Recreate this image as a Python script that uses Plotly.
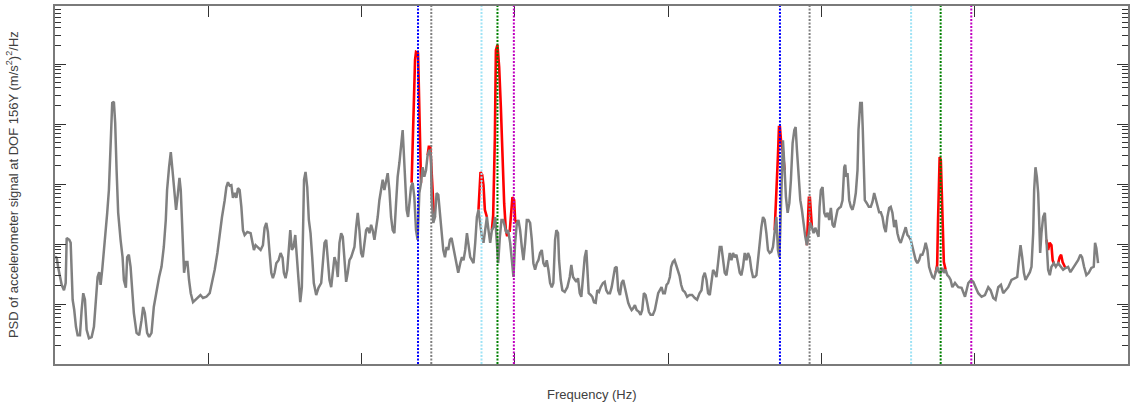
import plotly.graph_objects as go

# ---- measured PSD (gray) : frequency in Hz, PSD in dB re 1 (m/s^2)^2/Hz ----
freq_hz = [0.0, 0.55, 1.07, 1.63, 2.18, 2.93, 3.48, 3.81, 4.66, 5.11, 5.44, 5.76, 6.28, 6.84, 7.39, 8.14,
           8.69, 9.21, 9.77, 10.32, 11.07, 11.95, 12.70, 13.35, 13.90, 14.42, 14.88, 15.40, 15.95, 16.51,
           17.03, 17.58, 18.13, 18.66, 19.21, 19.63, 20.09, 20.61, 21.39, 22.04, 22.47, 23.12, 23.54, 24.09,
           24.65, 25.17, 25.72, 26.60, 27.45, 28.23, 28.75, 29.30, 30.05, 30.70, 31.48, 32.23, 33.11, 33.96,
           34.74, 35.49, 36.14, 36.56, 37.21, 37.77, 38.32, 38.74, 39.49, 40.05, 40.60, 41.02, 41.35, 41.77,
           42.10, 42.65, 43.20, 43.72, 44.28, 45.03, 45.81, 46.66, 47.44, 48.28, 49.39, 50.46, 51.21, 52.09,
           52.97, 53.72, 54.47, 55.35, 55.90, 56.42, 56.98, 57.53, 58.05, 58.60, 59.16, 59.68, 60.23, 60.79,
           61.31, 61.86, 62.74, 63.81, 64.37, 64.89, 65.44, 66.19, 67.07, 67.82, 68.37, 68.93, 69.45, 70.00,
           70.55, 71.07, 71.63, 72.18, 72.93, 73.58, 74.23, 74.66, 75.21, 75.76, 76.19, 76.74, 77.26, 77.81,
           78.37, 78.89, 79.44, 80.00, 80.52, 80.91, 81.23, 81.72, 82.27, 82.80, 83.35, 83.90, 84.42, 85.20,
           85.95, 86.83, 87.36, 87.91, 88.46, 88.98, 89.53, 90.09, 90.61, 91.16, 91.72, 92.24, 92.79, 93.34,
           93.87, 94.42, 94.97, 95.49, 96.05, 96.60, 97.12, 97.67, 98.23, 98.75, 99.30, 99.85, 100.38, 100.93,
           101.48, 102.01, 102.56, 103.11, 103.63, 104.19, 104.74, 105.26, 105.81, 106.37, 106.89, 107.44,
           107.99, 108.52, 109.07, 109.62, 110.15, 110.70, 111.25, 111.77, 112.33, 112.88, 113.40, 113.73,
           114.28, 114.70, 115.16, 115.58, 116.13, 116.66, 117.21, 117.76, 118.28, 118.84, 119.39, 119.91,
           120.46, 121.02, 121.54, 122.09, 122.64, 122.84, 123.39, 123.95, 124.47, 125.02, 125.58, 126.10,
           126.65, 127.20, 127.73, 128.28, 128.83, 129.35, 129.91, 130.46, 130.98, 131.53, 132.19, 132.74,
           133.26, 133.81, 134.37, 134.89, 135.44, 135.99, 136.52, 137.07, 137.62, 138.14, 138.70, 139.25,
           139.77, 140.32, 140.88, 141.40, 141.95, 142.51, 143.03, 143.58, 144.13, 144.56, 145.11, 145.63,
           146.19, 146.74, 147.26, 147.81, 148.47, 149.02, 149.54, 150.09, 150.65, 151.17, 151.72, 152.27,
           152.80, 153.35, 153.90, 154.42, 154.98, 155.53, 156.05, 156.60, 157.16, 157.68, 158.23, 158.78,
           159.31, 159.86, 160.41, 160.94, 161.49, 162.04, 162.56, 163.12, 163.54, 164.09, 164.42, 164.97,
           165.49, 166.27, 167.12, 167.90, 168.42, 168.98, 169.53, 170.05, 170.60, 171.16, 171.68, 172.23,
           172.79, 173.31, 173.63, 174.09, 174.74, 175.26, 175.81, 176.37, 176.89, 177.44, 177.99, 178.74,
           179.30, 179.82, 180.37, 181.02, 181.58, 182.10, 182.65, 183.20, 183.72, 184.28, 184.83, 185.35,
           185.91, 186.46, 186.98, 187.53, 188.09, 188.61, 189.16, 189.71, 190.46, 191.02, 191.54, 192.09,
           192.65, 193.17, 193.72, 194.27, 195.02, 195.67, 196.23, 196.75, 197.30, 197.85, 198.38, 198.93,
           199.48, 200.00, 200.56, 200.98, 201.53, 202.09, 202.61, 203.16, 203.72, 204.24, 204.79, 205.44,
           206.19, 206.97, 207.82, 208.70, 209.45, 210.23, 210.88, 211.40, 211.95, 212.51, 213.03, 213.58,
           214.13, 214.66, 215.21, 215.76, 216.28, 216.84, 217.39, 217.91, 218.46, 219.02, 219.54, 220.09,
           220.65, 221.17, 221.72, 222.27, 222.80, 223.35, 223.90, 224.42, 224.98, 225.53, 226.05, 226.60,
           227.16, 227.68, 228.23, 228.79, 229.31, 229.86, 230.41, 230.94, 231.49, 232.04, 232.57, 233.12,
           233.67, 234.19, 234.75, 235.30, 235.82, 236.28, 236.60, 237.12, 237.45, 238.00, 238.42, 238.98,
           239.53, 240.05, 240.60, 241.16, 241.58, 242.01, 242.56, 243.11, 243.63, 244.19, 244.74, 245.26,
           245.81, 246.37, 246.89, 247.44, 247.99, 248.52, 249.07, 249.39, 249.82, 250.37, 250.92, 251.45,
           252.00, 252.55, 253.08, 253.63, 254.18, 254.70, 255.26, 255.81, 256.33, 256.88, 257.44, 257.76,
           258.09, 258.51, 259.06, 259.59, 260.14, 260.69, 261.21, 261.77, 262.09, 262.65, 263.17, 263.49,
           263.82, 264.15, 264.80, 265.45, 266.10, 266.65, 267.21, 267.73, 268.28, 268.83, 269.36, 269.91,
           270.46, 270.98, 271.53, 272.09, 272.61, 273.16, 273.72, 274.24, 274.79, 275.34, 275.86, 276.42,
           276.97, 277.49, 278.05, 278.60, 279.12, 279.67, 280.23, 280.75, 281.30, 281.85, 282.37, 282.93,
           283.48, 284.00, 284.56, 285.11, 285.63, 286.19, 286.74, 287.26, 287.81, 288.37, 288.89, 289.44,
           289.99, 290.52, 291.07, 291.62, 292.15, 292.70, 293.57, 294.65, 295.72, 296.83, 297.91, 298.79,
           299.53, 300.29, 301.16, 302.24, 303.34, 304.42, 305.17, 306.05, 306.79, 307.67, 308.55, 309.30,
           310.05, 310.93, 312.00, 313.11, 313.86, 314.41, 314.94, 315.49, 316.04, 316.56, 317.21, 317.99,
           318.52, 319.07, 319.39, 319.82, 320.27, 320.70, 321.02, 321.35, 321.77, 322.32, 322.88, 323.40,
           323.95, 324.50, 325.03, 325.81, 326.46, 327.21, 327.96, 328.84, 329.59, 330.46, 331.22, 332.09,
           332.84, 333.72, 334.47, 335.02, 335.67, 336.42, 337.20, 338.05, 338.83, 339.26, 339.68, 340.01,
           340.23]

psd_db = [-42.1, -42.3, -44.0, -45.5, -46.8, -47.7, -46.5, -39.0, -39.3, -39.8, -44.8, -49.3, -51.0, -53.8,
          -55.2, -55.2, -51.0, -48.2, -49.3, -54.3, -55.7, -55.5, -53.8, -48.8, -45.5, -44.7, -46.8, -44.3,
          -41.5, -37.7, -34.8, -31.0, -23.2, -16.5, -16.3, -19.8, -27.7, -34.8, -39.3, -42.2, -46.0, -47.3,
          -42.2, -41.8, -43.8, -48.2, -51.5, -54.8, -55.2, -52.7, -50.5, -51.5, -54.8, -55.5, -54.8, -50.5,
          -47.7, -45.5, -43.8, -40.5, -36.0, -31.0, -27.2, -24.7, -27.7, -30.2, -34.3, -31.8, -29.0, -31.0,
          -34.8, -40.5, -44.8, -43.0, -43.0, -46.0, -48.2, -49.7, -49.3, -48.8, -48.5, -49.0, -48.8, -48.2,
          -46.5, -44.3, -41.5, -38.2, -35.5, -32.7, -30.5, -29.7, -30.3, -30.2, -32.3, -31.5, -32.3, -30.7,
          -31.0, -33.8, -37.7, -38.5, -38.0, -38.2, -39.8, -41.0, -40.2, -40.5, -41.0, -40.2, -37.3, -36.5,
          -38.0, -41.5, -44.8, -45.7, -44.8, -43.2, -42.7, -41.5, -42.3, -44.8, -45.7, -44.3, -40.5, -37.7,
          -41.0, -40.5, -38.5, -41.5, -46.0, -49.7, -47.2, -37.7, -29.3, -28.0, -30.5, -36.0, -38.2, -42.2,
          -46.5, -48.5, -47.3, -46.5, -43.2, -39.8, -39.3, -43.2, -46.0, -47.2, -44.3, -42.2, -43.2, -45.5,
          -39.8, -38.2, -38.8, -42.7, -46.3, -44.8, -42.7, -42.2, -41.5, -40.5, -37.2, -34.8, -37.7, -41.5,
          -42.2, -39.8, -37.7, -37.3, -38.2, -36.8, -37.7, -39.3, -37.7, -35.5, -32.7, -30.5, -29.3, -31.0,
          -29.7, -28.2, -31.0, -35.5, -37.7, -38.2, -33.2, -28.8, -26.5, -23.2, -21.0, -24.3, -29.8, -34.3,
          -35.5, -32.7, -30.5, -29.8, -32.2, -37.7, -39.3, -31.5, -29.8, -27.2, -28.8, -27.7, -25.2, -24.3,
          -25.5, -32.2, -36.5, -35.5, -31.5, -31.8, -35.5, -38.8, -41.0, -42.2, -40.5, -41.0, -39.3, -39.0,
          -40.5, -42.2, -43.2, -44.8, -43.2, -42.2, -42.7, -41.0, -38.2, -39.8, -42.2, -42.7, -43.2, -39.8,
          -35.5, -34.3, -37.2, -38.8, -39.8, -37.7, -35.5, -37.7, -39.8, -37.7, -37.2, -35.5, -39.8, -43.2,
          -38.8, -36.0, -36.0, -37.2, -38.2, -37.7, -39.8, -42.7, -45.5, -39.8, -36.5, -36.0, -37.7, -40.5,
          -42.7, -39.8, -36.0, -36.0, -36.5, -39.3, -43.2, -44.3, -43.2, -42.7, -41.5, -41.0, -43.2, -43.8,
          -42.7, -44.3, -46.5, -47.2, -46.5, -39.3, -37.7, -38.2, -42.7, -46.0, -47.7, -48.0, -47.2, -45.5,
          -43.5, -45.5, -46.0, -46.3, -45.7, -48.2, -48.8, -46.0, -42.2, -41.0, -43.8, -48.2, -48.5, -48.8,
          -49.7, -49.8, -47.7, -48.0, -47.2, -46.5, -46.3, -47.7, -48.2, -48.2, -47.2, -45.5, -44.0, -43.8,
          -47.7, -48.5, -46.5, -46.0, -47.2, -48.8, -49.8, -50.5, -51.0, -50.7, -50.2, -51.0, -51.3, -51.8,
          -51.0, -48.2, -48.5, -49.8, -51.3, -51.8, -51.8, -51.0, -49.8, -48.2, -47.7, -47.2, -48.2, -48.2,
          -46.8, -46.5, -45.5, -43.8, -43.0, -42.7, -43.5, -44.3, -45.3, -46.8, -47.7, -48.0, -48.8, -48.5,
          -48.5, -49.0, -49.3, -48.2, -47.7, -45.5, -44.8, -46.0, -48.2, -48.5, -46.0, -44.3, -44.8, -45.5,
          -43.2, -40.5, -40.5, -43.2, -44.8, -45.2, -43.2, -41.5, -42.7, -41.5, -42.2, -41.8, -43.2, -44.8,
          -45.2, -43.8, -41.5, -42.7, -41.5, -42.2, -44.3, -45.5, -45.5, -45.2, -42.7, -39.3, -37.2, -35.5,
          -36.0, -38.2, -41.0, -41.5, -41.3, -40.5, -37.7, -35.5, -41.0, -42.2, -37.2, -28.2, -22.7, -27.7,
          -32.2, -34.8, -33.2, -29.3, -23.2, -21.0, -20.5, -24.3, -29.3, -32.7, -34.3, -37.2, -38.8, -40.2,
          -38.2, -36.5, -37.2, -38.2, -37.3, -38.2, -38.8, -33.8, -31.0, -30.5, -34.8, -35.5, -34.8, -36.0,
          -34.0, -36.8, -37.2, -35.7, -34.3, -34.0, -33.8, -32.7, -27.2, -26.8, -28.8, -28.2, -32.7, -33.8,
          -34.3, -33.2, -31.5, -27.7, -21.0, -16.5, -16.5, -21.0, -26.0, -32.7, -33.2, -33.8, -33.8, -33.0,
          -31.5, -32.7, -34.0, -34.7, -34.7, -35.5, -37.2, -38.0, -35.5, -34.0, -33.8, -34.8, -37.2, -36.0,
          -38.2, -39.3, -39.8, -38.8, -38.2, -37.2, -38.5, -38.8, -39.3, -40.5, -41.5, -42.7, -43.2, -42.7,
          -41.8, -41.8, -41.0, -39.8, -41.0, -43.8, -44.7, -45.5, -45.7, -44.8, -43.8, -44.7, -44.8, -44.0,
          -44.8, -44.3, -45.2, -45.5, -46.0, -47.2, -46.5, -47.2, -47.3, -48.8, -46.5, -46.0, -46.3, -47.2,
          -48.2, -48.8, -48.5, -47.2, -47.7, -49.0, -49.3, -47.2, -46.8, -48.2, -47.7, -47.2, -46.0, -45.7,
          -45.5, -42.7, -40.2, -42.2, -44.8, -46.0, -45.5, -44.7, -43.8, -38.2, -31.0, -27.2, -28.8, -31.5,
          -36.0, -41.5, -38.2, -35.5, -34.8, -39.3, -44.3, -45.2, -43.8, -43.2, -43.8, -43.2, -43.8, -44.3,
          -44.0, -43.8, -44.7, -44.0, -43.2, -42.7, -41.8, -42.2, -43.8, -45.2, -44.8, -44.0, -43.8, -39.8,
          -40.7, -42.2, -43.2]

# ---- red trace: narrow spectral peaks around the tracked orders ----
peak_freq_hz = [
    [116.33, 116.66, 116.98, 117.44, 117.76, 118.41, 118.61, 118.94, 119.26, 119.39],
    [121.54, 121.93, 122.42, 122.84, 123.17, 123.56, 123.95],
    [138.14, 138.47, 138.80, 139.35, 139.77, 140.22, 140.88],
    [142.51, 142.93, 143.48, 143.81, 144.33, 144.88, 145.44, 145.96, 146.51, 147.06, 147.49, 147.81],
    [148.30, 148.79, 149.21, 149.77, 150.09, 150.65],
    [234.75, 235.17, 235.49, 235.82, 236.15, 236.47, 236.80, 237.12, 237.45, 237.67, 238.00],
    [245.26, 245.59, 245.91, 246.24, 246.57, 246.89],
    [287.26, 287.75, 288.04, 288.30, 288.56, 288.95, 289.28, 289.60, 289.93, 290.52],
    [323.40, 323.95, 324.44, 325.03, 325.42, 325.81],
    [327.21, 327.70, 328.18, 328.67, 329.59],
]
peak_psd_db = [
    [-29.8, -23.2, -13.8, -9.3, -8.0, -8.2, -12.2, -21.5, -27.2, -29.8],
    [-25.2, -23.8, -23.8, -28.5, -31.8, -34.8, -35.5],
    [-34.3, -31.0, -28.0, -28.5, -30.2, -34.3, -35.5],
    [-37.7, -35.2, -22.2, -7.7, -6.8, -10.5, -17.3, -25.2, -33.2, -37.7, -38.7, -37.7],
    [-38.0, -34.7, -32.2, -32.7, -36.0, -36.5],
    [-37.7, -33.5, -30.2, -25.2, -20.5, -20.5, -22.7, -23.5, -24.7, -26.0, -27.7],
    [-40.2, -34.3, -32.3, -32.3, -34.3, -37.2],
    [-44.8, -43.5, -36.0, -28.5, -25.5, -26.0, -31.0, -37.7, -43.0, -44.3],
    [-39.3, -41.0, -39.8, -40.2, -42.7, -43.2],
    [-43.2, -42.2, -41.8, -43.0, -44.0],
]

# ---- vertical marker lines (1st and 2nd harmonic of tracked components) ----
marker_colors = ["#0000FF", "#808080", "#9FE3F5", "#008000", "#C000C0"]
marker_freq_1x = [118.41, 122.74, 139.12, 144.33, 149.67]
marker_freq_2x = [236.47, 246.14, 279.25, 288.89, 298.88]


def db_to_lin(v):
    return 10 ** (v / 10.0)


red_x, red_y = [], []
for fs, ds in zip(peak_freq_hz, peak_psd_db):
    red_x += fs + [None]
    red_y += [db_to_lin(d) for d in ds] + [None]

fig = go.Figure()
fig.add_trace(go.Scatter(x=red_x, y=red_y, mode="lines",
                         line=dict(color="#FF0000", width=2.6), connectgaps=False,
                         hoverinfo="skip", showlegend=False))
fig.add_trace(go.Scatter(x=freq_hz, y=[db_to_lin(d) for d in psd_db], mode="lines",
                         line=dict(color="#808080", width=2.5), showlegend=False))

for c, f1, f2 in zip(marker_colors, marker_freq_1x, marker_freq_2x):
    for f in (f1, f2):
        fig.add_shape(type="line", xref="x", yref="paper", x0=f, x1=f, y0=0, y1=1,
                      line=dict(color=c, width=2, dash="2px,1.5px"), layer="above")

fig.add_annotation(text="PSD of accelerometer signal at DOF 156Y (m/s<sup>2</sup>)<sup>2</sup>/Hz",
                   xref="paper", yref="paper", x=-0.04, y=0.5, textangle=-90,
                   showarrow=False, xanchor="center", yanchor="middle",
                   font=dict(family="Liberation Sans, Arial", size=13, color="#404040"))
fig.add_annotation(text="Frequency (Hz)", xref="paper", yref="paper", x=0.5, y=-0.084,
                   showarrow=False, xanchor="center", yanchor="middle",
                   font=dict(family="Liberation Sans, Arial", size=13, color="#404040"))

fig.update_layout(
    width=1134, height=404,
    margin=dict(l=55, r=4, t=6, b=40),
    paper_bgcolor="white", plot_bgcolor="white",
    showlegend=False,
    xaxis=dict(range=[0, 350], tick0=0, dtick=50, ticks="inside", ticklen=11, tickwidth=1,
               tickcolor="#333333", showticklabels=False, showgrid=False, zeroline=False,
               showline=True, linecolor="#7a7a7a", linewidth=2, mirror="allticks"),
    yaxis=dict(type="log", range=[-6, -0.0333], dtick=1, ticks="inside", ticklen=11, tickwidth=1,
               tickcolor="#333333", showticklabels=False, showgrid=False, zeroline=False,
               showline=True, linecolor="#7a7a7a", linewidth=2, mirror="allticks",
               minor=dict(ticks="inside", ticklen=6, tickwidth=1, tickcolor="#333333",
                          dtick="D1", showgrid=False)),
)

fig.write_html("out.html", config={"displayModeBar": False},
               post_script="document.body.style.margin='0';document.body.style.overflow='hidden';")
